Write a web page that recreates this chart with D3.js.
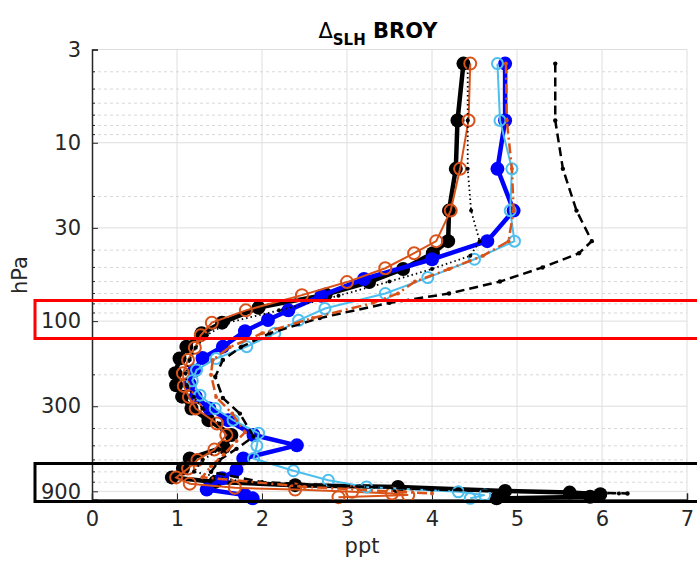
<!DOCTYPE html>
<html>
<head>
<meta charset="utf-8">
<script src="https://cdn.jsdelivr.net/npm/d3@7"></script>
<style>
  body { margin: 0; background: #fff; }
  text { font-family: "DejaVu Sans", sans-serif; }
</style>
</head>
<body>
<script>
// pressure levels (hPa) and mixing ratio change (ppt) per profile
const blackP = [3.6, 7.5, 14, 24, 35.6, 41.6, 51, 60.4, 71, 84, 102, 117, 139, 162, 196, 229, 265, 309, 359, 435, 509, 589, 670, 752, 797, 831, 850, 895, 915, 935, 965, 985]
const blackX = [4.37, 4.30, 4.28, 4.20, 4.19, 4.01, 3.66, 3.26, 2.75, 1.96, 1.53, 1.29, 1.11, 1.03, 0.98, 0.99, 1.06, 1.17, 1.37, 1.64, 1.55, 1.15, 1.07, 0.94, 1.45, 2.39, 3.60, 4.86, 5.62, 5.98, 5.86, 4.76]
const orangeP = [3.6, 7.5, 14, 24, 35.6, 41.6, 50.5, 60.4, 71.5, 87, 102, 120, 141, 165, 196, 231, 266, 309, 375, 435, 525, 600, 670, 752, 815, 860, 880, 906, 925, 945, 970]
const orangeX = [4.45, 4.43, 4.33, 4.22, 4.05, 3.79, 3.45, 3.0, 2.47, 1.81, 1.41, 1.28, 1.21, 1.13, 1.07, 1.08, 1.14, 1.22, 1.47, 1.58, 1.44, 1.24, 1.13, 0.99, 1.15, 1.68, 2.39, 3.06, 3.53, 3.72, 2.9]
const blueP = [3.6, 7.5, 14, 24, 35.6, 45, 58, 72, 87, 98.5, 114, 139, 161, 190, 225, 265, 309, 359, 435, 497, 589, 680, 760, 880, 945, 985]
const blueX = [4.86, 4.86, 4.77, 4.96, 4.65, 4.0, 3.2, 2.7, 2.31, 2.07, 1.80, 1.54, 1.30, 1.2, 1.15, 1.22, 1.38, 1.6, 1.9, 2.41, 1.78, 1.70, 1.53, 1.35, 1.8, 1.89]
const lightP = [3.6, 7.5, 14, 24, 35.6, 45, 57, 70, 85, 99, 117, 139, 162, 188, 216, 260, 309, 359, 425, 500, 589, 690, 780, 850, 906, 945, 985]
const lightX = [4.77, 4.80, 4.94, 4.92, 4.97, 4.5, 3.95, 3.45, 2.74, 2.43, 2.15, 1.82, 1.46, 1.23, 1.18, 1.27, 1.45, 1.66, 1.96, 1.94, 1.90, 2.37, 2.78, 3.23, 4.31, 4.62, 4.45]
const dashP = [3.6, 7.5, 14, 24, 35.6, 41.6, 50, 60, 70, 79, 96, 117, 140, 165, 205, 270, 330, 443, 520, 600, 700, 800, 880, 925]
const dashX = [5.45, 5.45, 5.54, 5.70, 5.88, 5.73, 5.3, 4.8, 4.2, 3.5, 2.68, 2.09, 1.75, 1.54, 1.45, 1.54, 1.74, 1.90, 1.7, 1.5, 1.4, 2.0, 4.0, 6.3]
const dotP = [3.6, 7.5, 14, 24, 35.6, 43, 51, 60, 72, 87, 102, 120, 141, 165, 196, 231, 266, 309, 375, 435, 525, 600, 700, 800, 880, 925]
const dotX = [4.42, 4.42, 4.42, 4.46, 4.56, 4.45, 4.0, 3.5, 2.9, 2.2, 1.6, 1.35, 1.22, 1.15, 1.1, 1.12, 1.2, 1.3, 1.5, 1.62, 1.5, 1.3, 1.2, 1.8, 4.0, 6.2]
const dashDotP = [3.6, 7.5, 14, 24, 35.6, 43, 51, 60, 70, 79, 96, 117, 140, 165, 200, 266, 330, 420, 470, 560, 650, 750, 850, 925]
const dashDotX = [4.87, 4.88, 4.94, 4.96, 4.90, 4.6, 4.2, 3.8, 3.6, 3.31, 2.6, 2.0, 1.62, 1.42, 1.4, 1.46, 1.65, 1.8, 1.7, 1.55, 1.4, 1.3, 2.5, 4.0]

const xTicks = [0, 1, 2, 3, 4, 5, 6, 7]
const yTicks = [3, 10, 30, 100, 300, 900]
const yMinor = [4, 5, 6, 7, 8, 9, 20, 40, 50, 60, 70, 80, 90, 200, 400, 500, 600, 700, 800]

const W = 697, H = 565
const svg = d3.select("body").append("svg").attr("width", W).attr("height", H)

const x = d3.scaleLinear().domain([0, 7]).range([92, 687])
const y = d3.scaleLog().domain([3, 1000]).range([49.5, 499.5])

// grid
svg.append("g").selectAll("line").data(xTicks.slice(1)).join("line")
    .attr("x1", d => x(d)).attr("x2", d => x(d)).attr("y1", 49.5).attr("y2", 499.5)
    .style("stroke", "#dedede").style("stroke-width", 1)
svg.append("g").selectAll("line").data(yTicks).join("line")
    .attr("x1", 92).attr("x2", 687).attr("y1", d => y(d)).attr("y2", d => y(d))
    .style("stroke", "#dedede").style("stroke-width", 1)
svg.append("g").selectAll("line").data(yMinor).join("line")
    .attr("x1", 92).attr("x2", 687).attr("y1", d => y(d)).attr("y2", d => y(d))
    .style("stroke", "#d8d8d8").style("stroke-width", 1).style("stroke-dasharray", "3,3")

// axes
const yAxis = d3.axisLeft(y).tickValues(yTicks).tickFormat(d3.format("d")).tickSize(-6).tickPadding(11)
const gy = svg.append("g").attr("transform", "translate(92,0)").call(yAxis)
gy.selectAll(".tick line").style("stroke", "#262626")
svg.append("g").selectAll("line").data(yMinor).join("line")
    .attr("x1", 92).attr("x2", 95).attr("y1", d => y(d)).attr("y2", d => y(d))
    .style("stroke", "#262626")
const xAxis = d3.axisBottom(x).tickValues(xTicks).tickFormat(d3.format("d")).tickSize(-6).tickPadding(12)
const gx = svg.append("g").attr("transform", "translate(0,499.5)").call(xAxis)
gx.selectAll(".tick line").style("stroke", "#262626")
for (const g of [gx, gy]) {
    g.select(".domain").style("stroke", "#262626").style("stroke-width", 1.5)
    g.selectAll("text").style("font-size", "21px").style("fill", "#262626")
        .style("font-family", "DejaVu Sans, sans-serif")
}

// profiles
const line = d3.line().x(d => x(d[0])).y(d => y(d[1]))
const series = [
    { xs: blackX, ps: blackP, color: "#000000", w: 4.5, dash: null, r: 7, fill: true },
    { xs: blueX, ps: blueP, color: "#0000ff", w: 4.5, dash: null, r: 7, fill: true },
    { xs: orangeX, ps: orangeP, color: "#d95319", w: 2, dash: null, r: 6, fill: false },
    { xs: lightX, ps: lightP, color: "#4dbeee", w: 2, dash: null, r: 5.5, fill: false },
    { xs: dashX, ps: dashP, color: "#000000", w: 2.5, dash: "9,5", r: 2.2, fill: true },
    { xs: dotX, ps: dotP, color: "#000000", w: 1.8, dash: "1.5,3", r: 2, fill: true },
    { xs: dashDotX, ps: dashDotP, color: "#d95319", w: 2.5, dash: "10,4,2,4", r: 2, fill: true }
]
series.forEach(s => {
    const pts = s.xs.map((v, i) => [v, s.ps[i]])
    const g = svg.append("g")
    g.append("path").datum(pts).attr("d", line)
        .style("fill", "none").style("stroke", s.color).style("stroke-width", s.w)
        .style("stroke-dasharray", s.dash)
    g.selectAll("circle").data(pts).join("circle")
        .attr("cx", d => x(d[0])).attr("cy", d => y(d[1])).attr("r", s.r)
        .style("fill", s.fill ? s.color : "none")
        .style("stroke", s.color).style("stroke-width", s.fill ? 0 : 2)
})

// highlighted bands
svg.append("rect").attr("x", 35).attr("y", 300.5).attr("width", 680).attr("height", 38)
    .style("fill", "none").style("stroke", "#ff0000").style("stroke-width", 3)
svg.append("rect").attr("x", 35).attr("y", 463.5).attr("width", 680).attr("height", 38)
    .style("fill", "none").style("stroke", "#000000").style("stroke-width", 3)

// labels
svg.append("text").attr("x", 362).attr("y", 553).attr("text-anchor", "middle")
    .style("font-size", "21px").style("fill", "#262626").text("ppt")
svg.append("text").attr("transform", "translate(27,275) rotate(-90)").attr("text-anchor", "middle")
    .style("font-size", "21px").style("fill", "#262626").text("hPa")
const title = svg.append("text").attr("x", 378).attr("y", 38).attr("text-anchor", "middle")
    .style("font-size", "21px").style("font-weight", "bold").style("fill", "#000")
title.append("tspan").style("font-weight", "normal").text("Δ")
title.append("tspan").attr("dy", 7).style("font-size", "15px").text("SLH")
title.append("tspan").attr("dy", -7).text(" BROY")
</script>
</body>
</html>
